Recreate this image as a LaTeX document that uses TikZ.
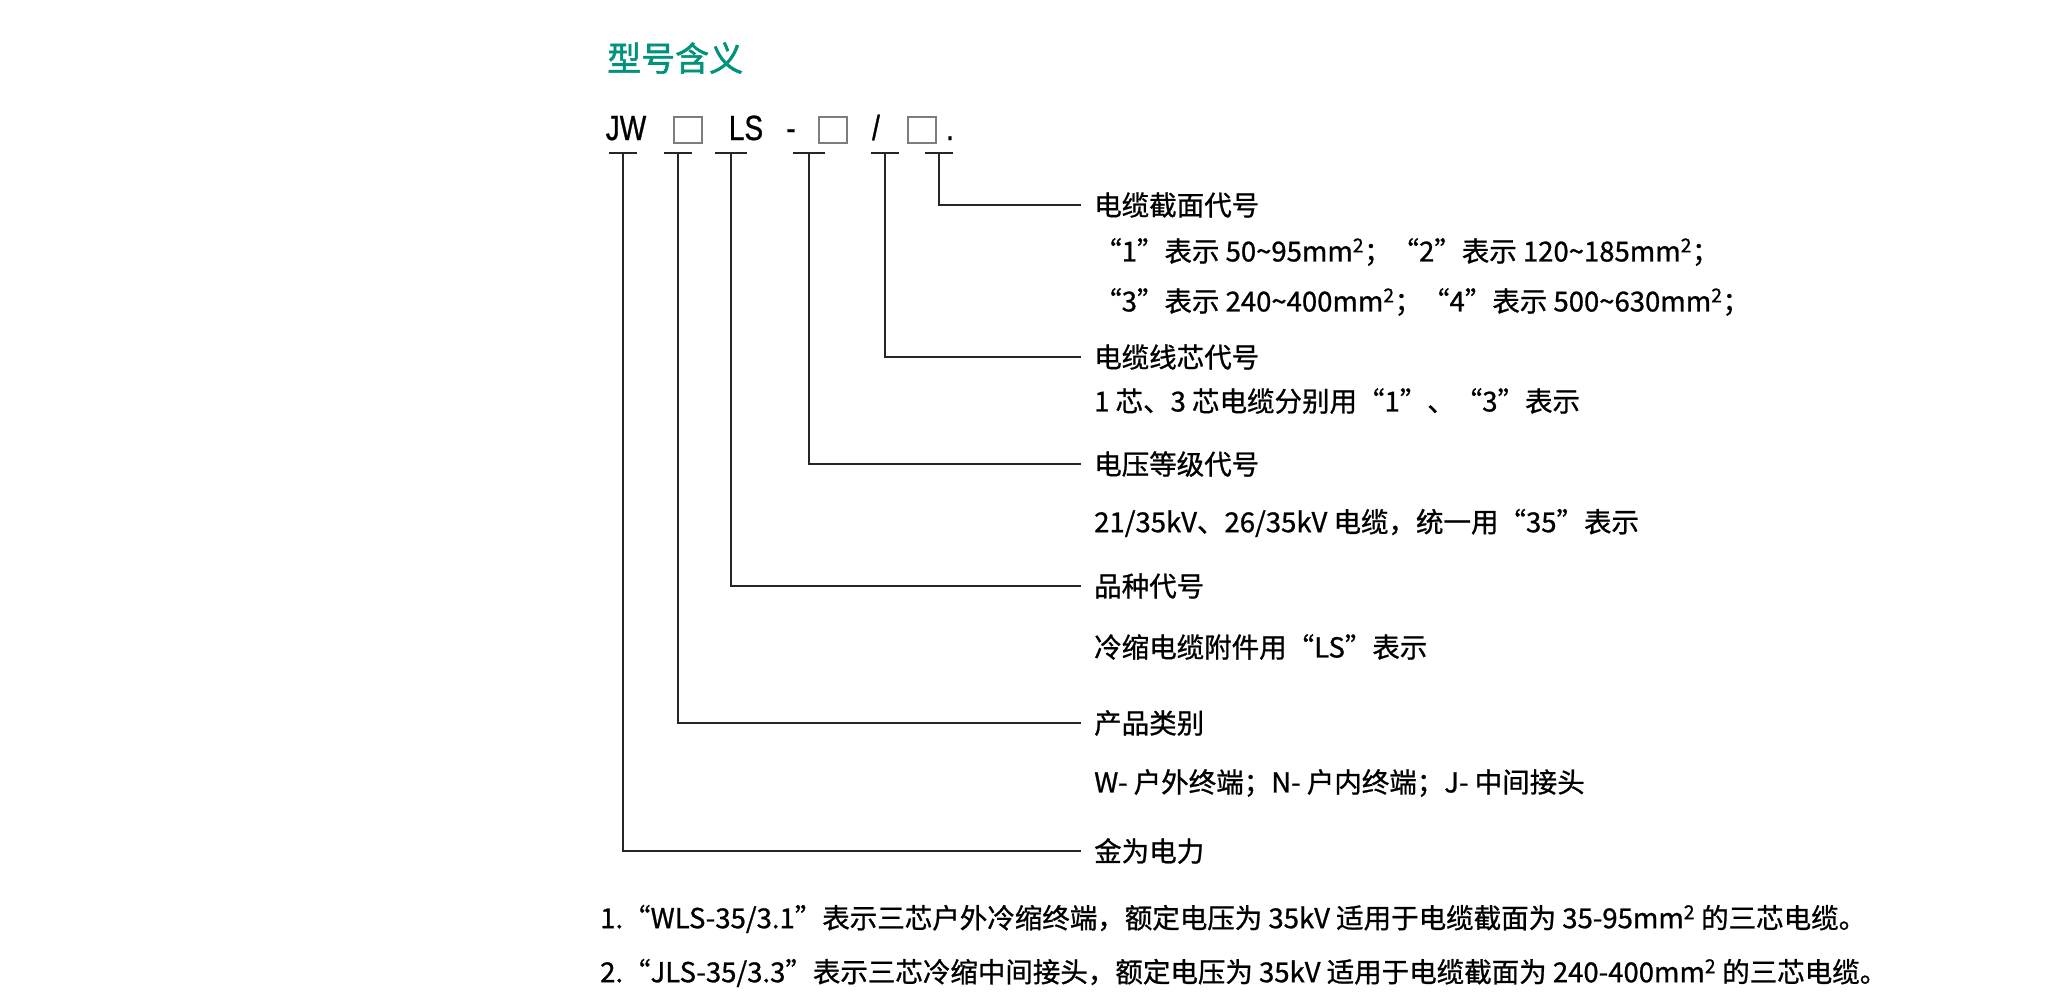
\documentclass[tikz,border=0pt]{standalone}
\usepackage{fontspec}
\setmainfont{Noto Sans CJK SC}[FakeBold=0.9]
\newfontfamily\titlefont{Noto Sans CJK SC}[FakeBold=1.6]
\newfontfamily\modelfont[FakeStretch=0.8, FakeBold=0.8]{Liberation Sans}
\definecolor{titlegreen}{RGB}{0,146,122}
\definecolor{slotgray}{RGB}{125,125,125}
\tikzset{
  part/.style={font=\modelfont\fontsize{35}{35}\selectfont, inner sep=0pt, anchor=base},
  slot/.style={draw=slotgray, line width=1.5pt, minimum width=28pt, minimum height=26pt, inner sep=0pt},
  item/.style={anchor=west, inner sep=0pt, font=\fontsize{27.5}{30}\selectfont},
  lead/.style={line width=1.6pt, draw=black!85},
}
\begin{document}
\begin{tikzpicture}[x=1pt,y=-1pt]
        \useasboundingbox (0,0) rectangle (2067,999);

        \node[anchor=west, inner sep=0pt, text=titlegreen, font=\titlefont\fontsize{34}{34}\selectfont] (title) at (607,58) {型号含义};

        % model code
        \node[part] (pJW) at (626,140) {JW};
        \node[slot] (pA) at (688,130) {};
        \node[part] (pLS) at (746,140) {LS};
        \node[part] (pdash) at (791,140) {-};
        \node[slot] (pB) at (833,130) {};
        \node[part] (pslash) at (876,140) {/};
        \node[slot] (pC) at (922,130) {};
        \node[part] (pdot) at (950,140) {.};

        % underlines
        \foreach \n/\x/\w in {1/623/14, 2/678/14, 3/731/16, 4/809/16, 5/885/14, 6/939/14} {
            \coordinate (u\n) at (\x,153);
            \draw[lead] ([xshift=-\w pt]u\n) -- ([xshift=\w pt]u\n);
        }

        % meanings
        \begin{scope}[every node/.style={item}]
            \node (m6) at (1094,205) {电缆截面代号};
            \node (d6a) at (1094,252) {“1”表示 50\textasciitilde95mm\textsuperscript{2}；“2”表示 120\textasciitilde185mm\textsuperscript{2}；};
            \node (d6b) at (1094,302) {“3”表示 240\textasciitilde400mm\textsuperscript{2}；“4”表示 500\textasciitilde630mm\textsuperscript{2}；};
            \node (m5) at (1094,357) {电缆线芯代号};
            \node (d5) at (1094,401) {1 芯、3 芯电缆分别用“1”、“3”表示};
            \node (m4) at (1094,464) {电压等级代号};
            \node (d4) at (1094,523) {21/35kV、26/35kV 电缆，统一用“35”表示};
            \node (m3) at (1094,586) {品种代号};
            \node (d3) at (1094,647) {冷缩电缆附件用“LS”表示};
            \node (m2) at (1094,723) {产品类别};
            \node (d2) at (1094,783) {W- 户外终端；N- 户内终端；J- 中间接头};
            \node (m1) at (1094,851) {金为电力};
            \node (note1) at (600,919) {1.“WLS-35/3.1”表示三芯户外冷缩终端，额定电压为 35kV 适用于电缆截面为 35-95mm\textsuperscript{2} 的三芯电缆。};
            \node (note2) at (600,973) {2.“JLS-35/3.3”表示三芯冷缩中间接头，额定电压为 35kV 适用于电缆截面为 240-400mm\textsuperscript{2} 的三芯电缆。};
        \end{scope}

        % leaders
        \begin{scope}[every path/.style={lead}]
            \foreach \n in {1,...,6}
                \draw (u\n) |- ([xshift=-13pt]m\n.west);
        \end{scope}
        \end{tikzpicture}
\end{document}
